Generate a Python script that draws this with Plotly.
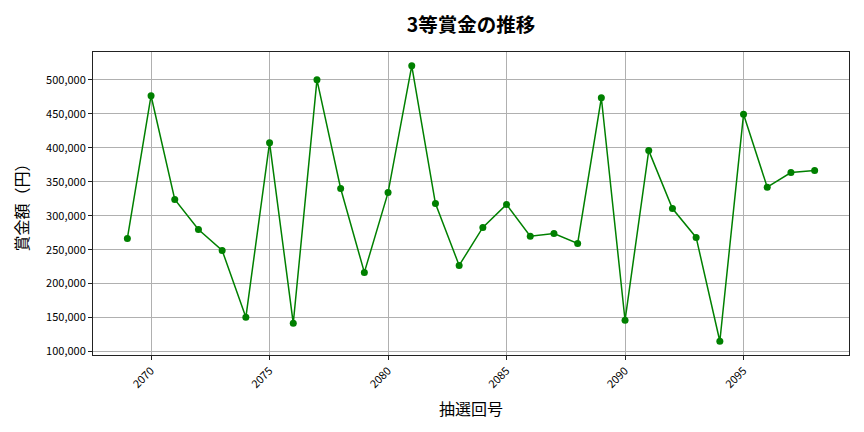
import plotly.graph_objects as go

draws = list(range(2069, 2099))
prizes = [266500, 476600, 323800, 279700, 248900, 150400, 407500, 141600, 500000, 340000,
          216500, 334000, 520700, 317900, 226800, 282700, 316500, 269900, 273800, 259200,
          473600, 146000, 395800, 310600, 268000, 115200, 449200, 341900, 363500, 366400]

title_text = "3等賞金の推移"
x_title = "抽選回号"
y_title = "賞金額（円）"

FONT = "Noto Sans CJK JP"

fig = go.Figure()
fig.add_trace(go.Scatter(
    x=draws, y=prizes, mode="lines+markers",
    line=dict(color="#008000", width=1.5),
    marker=dict(color="#008000", size=7),
    showlegend=False,
))

axis_common = dict(
    showline=True, linecolor="#222222", linewidth=1, mirror=True,
    showgrid=True, gridcolor="#b0b0b0", gridwidth=0.8,
    ticks="outside", ticklen=4, tickcolor="#222222",
    tickfont=dict(family=FONT, size=11, color="#000000"),
    zeroline=False,
)

fig.update_layout(
    width=864, height=432,
    margin=dict(l=85, r=23, t=44, b=85),
    paper_bgcolor="white", plot_bgcolor="white",
    title=dict(text=title_text, xref="paper", x=0.5, xanchor="center", y=0.961, yanchor="middle",
               font=dict(family=FONT, size=19.5, color="#000000", weight="bold")),
    xaxis=dict(axis_common, range=[2067.55, 2099.45], tickmode="array",
               tickvals=[2070, 2075, 2080, 2085, 2090, 2095], tickangle=-45,
               title=dict(text=x_title, font=dict(family=FONT, size=16, color="#000000"), standoff=13)),
    yaxis=dict(axis_common, range=[94900, 541000], tickformat=",", dtick=50000,
               title=dict(text=y_title, font=dict(family=FONT, size=16, color="#000000"), standoff=13)),
)

fig.write_html("out.html")
